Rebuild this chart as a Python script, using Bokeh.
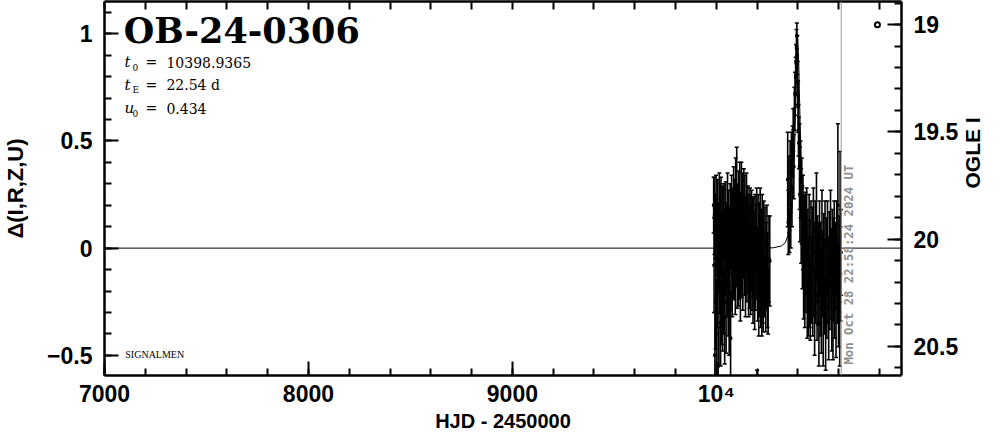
import math
from bokeh.plotting import figure
from bokeh.models import (Range1d, LinearAxis, SingleIntervalTicker, FixedTicker, CustomJSTickFormatter,
                          ColumnDataSource, Label, Span)
from bokeh.embed import file_html
from bokeh.resources import INLINE

# ---------------- data ----------------
season1_t = [9987, 9989, 9991, 9993, 9995, 9997, 9999, 10001, 10003, 10005, 10007, 10009, 10011, 10013,
             10015, 10017, 10019, 10021, 10023, 10025, 10027, 10029, 10031, 10034, 10036, 10038, 10041,
             10043, 10046, 10048, 10050, 10053, 10055, 10058, 10060, 10063, 10065, 10068, 10070, 10072,
             10075, 10078, 10080, 10083, 10085, 10088, 10090, 10093, 10095, 10098, 10100, 10103, 10105,
             10108, 10110, 10113, 10115, 10118, 10120, 10123, 10125, 10128, 10130, 10133, 10135, 10138,
             10140, 10143, 10145, 10148, 10150, 10153, 10155, 10158, 10160, 10163, 10165, 10168, 10170,
             10173, 10175, 10178, 10180, 10183, 10185, 10188, 10190, 10193, 10195, 10198, 10200, 10203,
             10205, 10208, 10210, 10213, 10215, 10218, 10220, 10223, 10225, 10228, 10230, 10233, 10236,
             10239, 10242, 10245, 10248, 10251, 10254, 10258, 10262]
season1_d = [0.20, -0.08, 0.15, -0.50, 0.10, -0.25, 0.18, -0.40, 0.05, -0.15, 0.12, -0.55, 0.00, -0.30,
             0.20, -0.10, 0.08, -0.35, 0.15, -0.05, -0.20, 0.10, -0.28, 0.05, -0.15, 0.12, -0.32,
             -0.02, 0.10, -0.25, 0.02, -0.10, 0.15, -0.18, 0.05, -0.30, -0.05, 0.10, -0.42, -0.08,
             0.12, -0.12, 0.05, -0.05, 0.18, -0.02, 0.08, -0.10, 0.20, 0.02, 0.25, -0.05, 0.10,
             -0.08, 0.15, 0.00, 0.20, -0.12, 0.08, 0.18, -0.03, 0.12, -0.08, 0.05, 0.15, -0.02,
             0.10, -0.10, 0.06, 0.14, -0.05, 0.02, 0.10, -0.10, 0.05, -0.04, 0.08, -0.12, 0.02,
             0.10, -0.08, 0.00, -0.15, 0.06, -0.05, -0.18, 0.04, -0.10, -0.02, 0.08, -0.75, -0.12,
             0.05, -0.20, 0.02, -0.08, 0.10, -0.15, -0.02, -0.18, 0.05, -0.10, -0.20, 0.00, -0.12,
             -0.05, -0.22, -0.08, 0.02, -0.15, -0.25, -0.05, -0.06]
season1_e = [0.13, 0.22, 0.18, 0.20, 0.15, 0.22, 0.16, 0.25, 0.18, 0.22, 0.20, 0.18, 0.21, 0.24,
             0.15, 0.20, 0.22, 0.20, 0.18, 0.22, 0.25, 0.19, 0.20, 0.23, 0.25, 0.18, 0.22,
             0.20, 0.21, 0.24, 0.19, 0.22, 0.20, 0.23, 0.22, 0.20, 0.24, 0.20, 0.22, 0.21,
             0.22, 0.20, 0.23, 0.19, 0.20, 0.22, 0.24, 0.21, 0.22, 0.20, 0.22, 0.23, 0.20,
             0.19, 0.21, 0.24, 0.20, 0.22, 0.18, 0.22, 0.20, 0.23, 0.21, 0.19, 0.22, 0.20,
             0.24, 0.22, 0.18, 0.21, 0.20, 0.23, 0.19, 0.22, 0.20, 0.24, 0.20, 0.19, 0.22,
             0.17, 0.21, 0.23, 0.20, 0.18, 0.22, 0.20, 0.21, 0.19, 0.22, 0.20, 0.18, 0.22,
             0.20, 0.21, 0.19, 0.24, 0.18, 0.22, 0.20, 0.23, 0.20, 0.25, 0.19, 0.22, 0.20,
             0.24, 0.17, 0.20, 0.18, 0.22, 0.15, 0.20, 0.21]

season2_t = [10350, 10353, 10356, 10359, 10362, 10365, 10368, 10371, 10374, 10377, 10380, 10383, 10386,
             10389, 10391, 10393, 10395, 10397, 10399, 10401, 10403, 10405, 10408, 10410, 10413, 10416,
             10419, 10422, 10425, 10428, 10431, 10434, 10437, 10440, 10443, 10446, 10449, 10452, 10455,
             10458, 10461, 10464, 10467, 10470, 10473, 10476, 10479, 10482, 10485, 10488, 10491, 10494,
             10497, 10500, 10503, 10506, 10509, 10512, 10515, 10518, 10521, 10524, 10527, 10530, 10533,
             10536, 10539, 10542, 10545, 10548, 10551, 10554, 10557, 10560, 10563, 10566, 10569, 10572,
             10575, 10578, 10581, 10584, 10587, 10590, 10593, 10596, 10599, 10602, 10605, 10607, 10609,
             10611]
season2_d = [0.32, 0.12, 0.25, 0.08, 0.35, 0.20, 0.40, 0.28, 0.45, 0.55, 0.38, 0.65, 0.72,
             0.80, 0.87, 0.94, 0.99, 0.90, 0.77, 0.66, 0.55, 0.49, 0.38, 0.25, 0.32, 0.15,
             0.22, 0.05, 0.12, -0.08, 0.05, -0.15, 0.02, -0.10, 0.10, -0.20, -0.02, -0.18, 0.05,
             -0.12, -0.25, 0.00, -0.15, -0.05, -0.20, 0.08, -0.10, -0.30, -0.02, -0.15, 0.10, -0.22,
             -0.05, -0.12, -0.35, 0.00, -0.18, -0.08, -0.25, 0.05, -0.12, -0.30, -0.05, -0.18, 0.02,
             -0.35, -0.10, -0.22, 0.00, -0.15, -0.28, -0.05, -0.18, 0.05, -0.12, -0.25, -0.02, -0.30,
             -0.10, 0.02, -0.20, -0.08, -0.28, 0.00, -0.15, 0.20, -0.22, -0.05, -0.30, 0.10, -0.12,
             -0.02]
season2_e = [0.22, 0.15, 0.18, 0.10, 0.15, 0.20, 0.14, 0.18, 0.12, 0.10, 0.15, 0.10, 0.10,
             0.09, 0.08, 0.08, 0.06, 0.09, 0.10, 0.12, 0.12, 0.12, 0.20, 0.22, 0.18, 0.22,
             0.20, 0.24, 0.22, 0.25, 0.20, 0.22, 0.24, 0.20, 0.18, 0.22, 0.20, 0.23, 0.20,
             0.25, 0.18, 0.22, 0.20, 0.24, 0.21, 0.20, 0.22, 0.20, 0.24, 0.20, 0.25, 0.21,
             0.20, 0.24, 0.20, 0.22, 0.23, 0.20, 0.24, 0.22, 0.20, 0.25, 0.21, 0.22, 0.20,
             0.22, 0.24, 0.20, 0.22, 0.20, 0.24, 0.22, 0.20, 0.22, 0.21, 0.23, 0.20, 0.22,
             0.24, 0.20, 0.22, 0.20, 0.23, 0.22, 0.20, 0.38, 0.24, 0.20, 0.25, 0.35, 0.22,
             0.20]

# model light curve (Delta mag)
model_t = [7000, 10200, 10279, 10319, 10339, 10359, 10369, 10379, 10384, 10389, 10394, 10399,
           10404, 10409, 10414, 10419, 10429, 10439, 10459, 10479, 10519, 10600, 10908]
model_d = [0.0, 0.0, 0.0015, 0.010, 0.026, 0.082, 0.160, 0.327, 0.468, 0.659, 0.871, 0.979,
           0.871, 0.659, 0.468, 0.327, 0.160, 0.082, 0.026, 0.010, 0.0015, 0.0, 0.0]

event_name = "OB-24-0306"
param_rows = [("t", "0", "10398.9365"), ("t", "E", "22.54 d"), ("u", "0", "0.434")]
credit_text = "SIGNALMEN"
now_hjd = 10612.46
now_text = "Mon Oct 28 22:58:24 2024 UT"
ogle_t = [10790]
ogle_mag = [19.0]

# ---------------- figure ----------------
TICKFONT = "Liberation Sans"
SER = "DejaVu Serif"
p = figure(width=1004, height=434,
           x_range=Range1d(7000, 10908), y_range=Range1d(-0.594, 1.150),
           output_backend="svg", toolbar_location=None,
           min_border_left=101, min_border_right=103, min_border_top=1, min_border_bottom=58)
p.extra_y_ranges = {"mag": Range1d(20.636, 18.892)}
p.xgrid.grid_line_color = None
p.ygrid.grid_line_color = None
p.outline_line_color = None
p.background_fill_color = "white"


def style_axis(ax, tick_in=14, minor_in=7):
    ax.major_tick_in = tick_in
    ax.major_tick_out = 0
    ax.minor_tick_in = minor_in
    ax.minor_tick_out = 0
    ax.axis_line_width = 2.5
    ax.major_tick_line_width = 2
    ax.minor_tick_line_width = 2
    ax.axis_line_color = "black"
    ax.major_tick_line_color = "black"
    ax.minor_tick_line_color = "black"
    ax.major_label_text_font = TICKFONT
    ax.major_label_text_font_style = "bold"
    ax.major_label_text_font_size = "23px"
    ax.major_label_text_color = "black"
    ax.axis_label_text_font = TICKFONT
    ax.axis_label_text_font_style = "bold"
    ax.axis_label_text_color = "black"


xfmt = CustomJSTickFormatter(code="return tick == 10000 ? '10\u2074' : tick.toFixed(0);")
yfmt = CustomJSTickFormatter(code="return (tick < 0 ? '\u2212' : '') + Math.abs(tick).toString();")
mfmt = CustomJSTickFormatter(code="return tick.toString();")

xa = p.xaxis[0]
xa.ticker = SingleIntervalTicker(interval=1000, num_minor_ticks=5)
xa.formatter = xfmt
style_axis(xa)
xa.major_label_standoff = 5
xa.axis_label = "HJD - 2450000"
xa.axis_label_text_font_size = "20px"
xa.axis_label_standoff = 0

ya = p.yaxis[0]
ya.ticker = SingleIntervalTicker(interval=0.5, num_minor_ticks=5)
ya.formatter = yfmt
style_axis(ya)
ya.major_label_standoff = 12
ya.axis_label = "\u0394(I,R,Z,U)"
ya.axis_label_text_font_size = "22px"
ya.axis_label_standoff = 16

# top axis: tick marks only (no labels)
top = LinearAxis(ticker=FixedTicker(ticks=[], minor_ticks=list(range(7000, 10901, 200))))
style_axis(top, tick_in=8, minor_in=8)
p.add_layout(top, "above")

right = LinearAxis(y_range_name="mag", ticker=SingleIntervalTicker(interval=0.5, num_minor_ticks=5),
                   formatter=mfmt)
style_axis(right)
right.major_label_standoff = 12
right.axis_label = "OGLE I"
right.axis_label_text_font_size = "21px"
right.axis_label_standoff = 11
try:
    right.axis_label_orientation = math.pi / 2
except Exception:
    pass
p.add_layout(right, "right")

# ---------------- data marks ----------------
t_all = season1_t + season2_t
d_all = season1_d + season2_d
e_all = season1_e + season2_e
src = ColumnDataSource(dict(t=t_all, d=d_all,
                            lo=[d - e for d, e in zip(d_all, e_all)],
                            hi=[d + e for d, e in zip(d_all, e_all)]))
p.segment(x0="t", y0="lo", x1="t", y1="hi", source=src, line_color="black", line_width=1.6)
p.scatter(x="t", y="lo", source=src, marker="dash", size=4, line_color="black", line_width=1.5)
p.scatter(x="t", y="hi", source=src, marker="dash", size=4, line_color="black", line_width=1.5)
p.scatter(x="t", y="d", source=src, marker="square", size=2.5, color="black")

p.line(model_t, model_d, line_color="black", line_width=1)

p.add_layout(Span(location=now_hjd, dimension="height", line_color="#9a9a9a", line_width=1))
p.scatter(ogle_t, ogle_mag, y_range_name="mag", marker="circle", size=5,
          fill_color=None, line_color="black", line_width=2)

# ---------------- texts ----------------
p.add_layout(Label(x=7095, y=1.013, text=event_name, text_font=SER, text_color="black",
                   text_font_style="bold", text_font_size="35px", text_baseline="middle"))

row_y = [0.866, 0.760, 0.653]
for (main, sub, val), yy in zip(param_rows, row_y):
    p.add_layout(Label(x=7097.7, y=yy, text=main, text_font=SER, text_font_style="italic",
                       text_color="black", text_font_size="15px", text_baseline="middle"))
    p.add_layout(Label(x=7097.7, y=yy, x_offset=8, y_offset=-5, text=sub, text_font=SER,
                       text_color="black", text_font_size="9px", text_baseline="middle"))
    p.add_layout(Label(x=7097.7, y=yy, x_offset=21, text="=", text_font=SER,
                       text_color="black", text_font_size="14px", text_baseline="middle"))
    p.add_layout(Label(x=7097.7, y=yy, x_offset=42, text=val, text_font=SER,
                       text_color="black", text_font_size="14px", text_baseline="middle"))

p.add_layout(Label(x=7102, y=-0.498, text=credit_text, text_font="Liberation Serif",
                   text_color="black", text_font_size="10px", text_baseline="middle"))

p.add_layout(Label(x=now_hjd, y=-0.543, x_offset=1, text=now_text, angle=math.pi / 2,
                   text_font="DejaVu Sans Mono", text_font_style="bold", text_font_size="12.3px",
                   text_color="#8f8f8f", text_align="left", text_baseline="top"))

open("out.html", "w").write(file_html(p, INLINE))
